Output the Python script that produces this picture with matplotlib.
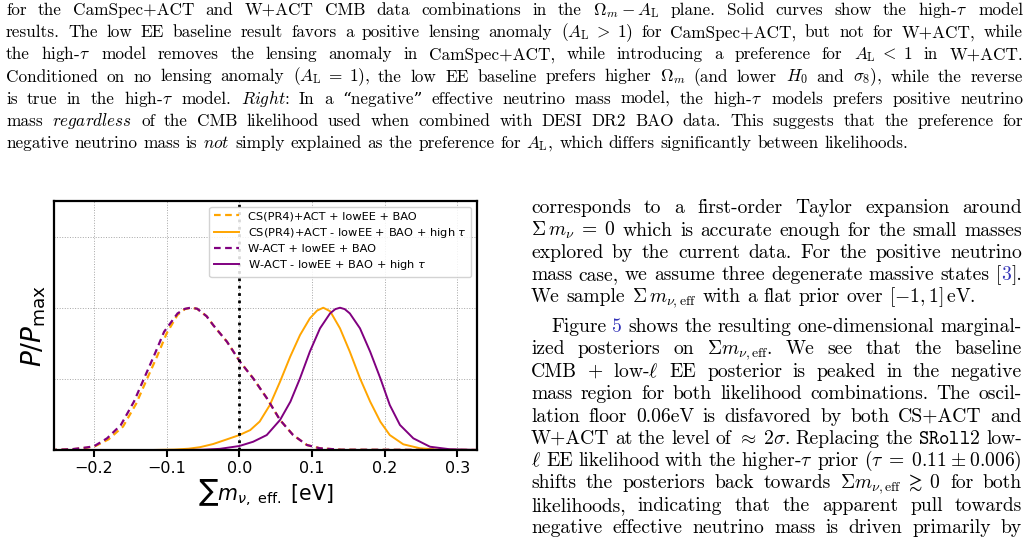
import matplotlib
matplotlib.use("Agg")
from matplotlib import pyplot as plt

W, H = 1028, 546

# curves: x = sum m_nu,eff [eV], y = P/Pmax
cs_low_x = [-0.26, -0.23, -0.21, -0.198, -0.18, -0.16, -0.142, -0.127, -0.113, -0.1, -0.085, -0.075, -0.066,
            -0.058, -0.045, -0.036, -0.017, 0.001, 0.019, 0.038, 0.056, 0.074, 0.093, 0.111, 0.14, 0.33]
cs_low_y = [0.0, 0.005, 0.016, 0.028, 0.075, 0.165, 0.325, 0.5, 0.66, 0.82, 0.95, 0.99, 1.0,
            0.992, 0.94, 0.878, 0.761, 0.62, 0.504, 0.363, 0.211, 0.105, 0.035, 0.012, 0.002, 0.0]

cs_high_x = [-0.26, -0.12, -0.09, -0.07, -0.054, -0.036, -0.017, 0.0, 0.015, 0.028, 0.042, 0.056, 0.07, 0.0835,
             0.097, 0.107, 0.1155, 0.125, 0.1385, 0.152, 0.166, 0.18, 0.194, 0.207, 0.2256, 0.2486, 0.276, 0.33]
cs_high_y = [0.0, 0.0, 0.003, 0.009, 0.02, 0.042, 0.075, 0.105, 0.14, 0.2, 0.316, 0.48, 0.656, 0.808,
             0.925, 0.98, 1.0, 0.975, 0.855, 0.691, 0.504, 0.34, 0.199, 0.105, 0.04, 0.012, 0.002, 0.0]

w_low_x = [-0.26, -0.23, -0.21, -0.2, -0.182, -0.163, -0.145, -0.131, -0.117, -0.1035, -0.085, -0.075, -0.067,
           -0.058, -0.045, -0.036, -0.017, 0.001, 0.019, 0.038, 0.056, 0.074, 0.093, 0.111, 0.14, 0.33]
w_low_y = [0.0, 0.006, 0.018, 0.026, 0.082, 0.176, 0.34, 0.504, 0.667, 0.831, 0.96, 0.992, 1.0,
           0.993, 0.94, 0.878, 0.761, 0.62, 0.504, 0.363, 0.211, 0.105, 0.035, 0.012, 0.002, 0.0]

w_high_x = [-0.26, -0.08, -0.05, -0.027, 0.0, 0.019, 0.0377, 0.056, 0.0703, 0.0835, 0.097, 0.111, 0.1248,
            0.132, 0.1385, 0.145, 0.152, 0.166, 0.18, 0.194, 0.207, 0.221, 0.2394, 0.2623, 0.29, 0.33]
w_high_y = [0.0, 0.0, 0.002, 0.008, 0.028, 0.058, 0.105, 0.211, 0.34, 0.504, 0.691, 0.855, 0.96,
            0.99, 1.0, 0.99, 0.96, 0.855, 0.691, 0.504, 0.316, 0.176, 0.082, 0.023, 0.005, 0.0]

labels = ["CS(PR4)+ACT + lowEE + BAO",
          r"CS(PR4)+ACT - lowEE + BAO + high $\tau$",
          "W-ACT + lowEE + BAO",
          r"W-ACT - lowEE + BAO + high $\tau$"]
xticks = [-0.2, -0.1, 0.0, 0.1, 0.2, 0.3]

# caption lines (first one is cut off by the top of the page); "|" toggles blue link colour
caption = [
    r"Left: Marginalized $(\Omega_m, A_{\rm L})$ and $\Sigma\, m_{\nu,{\rm eff}}$ posteriors, comparing the baseline low EE likelihood (dashed) with the",
    r"for the CamSpec+ACT and W+ACT CMB data combinations in the $\Omega_m \:-\: A_{\rm L}$ plane. Solid curves show the high-$\tau$ model",
    r"results. The low EE baseline result favors a positive lensing anomaly ($A_{\rm L} \;>\; 1$) for CamSpec+ACT, but not for W+ACT, while",
    r"the high-$\tau$ model removes the lensing anomaly in CamSpec+ACT, while introducing a preference for $A_{\rm L} \;<\; 1$ in W+ACT.",
    r"Conditioned on no lensing anomaly ($A_{\rm L} \;=\; 1$), the low EE baseline prefers higher $\Omega_m$ (and lower $H_0$ and $\sigma_8$), while the reverse",
    r"is true in the high-$\tau$ model. $\mathit{Right}$: In a “negative” effective neutrino mass model, the high-$\tau$ models prefers positive neutrino",
    r"mass $\mathit{regardless}$ of the CMB likelihood used when combined with DESI DR2 BAO data. This suggests that the preference for",
    r"negative neutrino mass is $\mathit{not}$ simply explained as the preference for $A_{\rm L}$, which differs significantly between likelihoods.",
]
body = [
    r"corresponds to a first-order Taylor expansion around",
    r"$\Sigma\, m_\nu \;=\; 0$ which is accurate enough for the small masses",
    r"explored by the current data. For the positive neutrino",
    r"mass case, we assume three degenerate massive states [|3|].",
    r"We sample $\Sigma\, m_{\nu,{\rm eff}}$ with a flat prior over $[-1, 1]\,$eV.",
    r"Figure |5| shows the resulting one-dimensional marginal-",
    r"ized posteriors on $\Sigma m_{\nu,{\rm eff}}$.  We see that the baseline",
    r"CMB + low-$\ell$ EE posterior is peaked in the negative",
    r"mass region for both likelihood combinations. The oscil-",
    r"lation floor 0.06eV is disfavored by both CS+ACT and",
    r"W+ACT at the level of $\approx\; 2\sigma$. Replacing the $\mathtt{SRoll2}$ low-",
    r"$\ell$ EE likelihood with the higher-$\tau$ prior ($\tau \;=\; 0.11 \:\pm\: 0.006$)",
    r"shifts the posteriors back towards $\Sigma m_{\nu,{\rm eff}} \;\gtrsim\; 0$ for both",
    r"likelihoods, indicating that the apparent pull towards",
    r"negative effective neutrino mass is driven primarily by",
]

fig = plt.figure(figsize=(W / 100, H / 100), dpi=100)

#================================================================
# the embedded plot
ax = fig.add_axes([54 / W, 1 - 450 / H, 423 / W, 249 / H])

ax.plot(cs_low_x, cs_low_y, color="orange", ls="--", dashes=(3, 2), lw=1.6, label=labels[0])
ax.plot(cs_high_x, cs_high_y, color="orange", lw=1.4, label=labels[1])
ax.plot(w_low_x, w_low_y, color="purple", ls="--", dashes=(3, 2), lw=1.6, label=labels[2])
ax.plot(w_high_x, w_high_y, color="purple", lw=1.4, label=labels[3])
ax.axvline(0, color="black", ls=":", lw=2, zorder=3)

ax.set_xlim(-0.255, 0.327)
ax.set_ylim(0, 1.75)
ax.set_xticks(xticks)
ax.set_yticks([0, 0.5, 1.0, 1.5])
ax.grid(True, ls=":", color="gray", lw=0.7, alpha=0.7)
ax.tick_params(axis="x", direction="out", length=5, width=1.5, labelsize=11.5, pad=3)
ax.tick_params(axis="y", length=0, labelleft=False)
for sp in ax.spines.values():
    sp.set_linewidth(1.6)

ax.set_xlabel(r"$\sum m_{\nu,\ \mathrm{eff.}}$ [eV]", fontsize=14.8, labelpad=1)
ax.set_ylabel(r"$P/P_{\rm max}$", fontsize=19, labelpad=4)
ax.legend(loc="upper right", fontsize=8.2, handlelength=2.2, labelspacing=0.38,
          borderaxespad=0.5, framealpha=0.85)

#================================================================
# the page text around the plot
renderer = fig.canvas.get_renderer()
serif = ["cmr10", "DejaVu Serif"]
link = "#3535b8"


def split_words(s):
    words, cur, inmath = [], "", False
    for ch in s:
        if ch == "$":
            inmath = not inmath
        if ch == " " and not inmath:
            if cur:
                words.append(cur)
            cur = ""
        else:
            cur += ch
    if cur:
        words.append(cur)
    return words


def put_line(s, x0, x1, y, size, justify=True):
    words = []
    for w in split_words(s):
        parts = []
        for k, p in enumerate(w.split("|")):
            if p:
                t = fig.text(0, 1 - y / H, p, fontsize=size, family=serif, math_fontfamily="cm",
                             color=link if k % 2 else "black", ha="left", va="baseline")
                parts.append((t, t.get_window_extent(renderer).width))
        words.append(parts)
    total = sum(wd for parts in words for _, wd in parts)
    if justify and len(words) > 1:
        gap = (x1 - x0 - total) / (len(words) - 1)
    else:
        gap = size * 100 / 72 * 0.333
    x = x0
    for parts in words:
        for t, wd in parts:
            t.set_x(x / W)
            x += wd
        x += gap


cap_y = [-7, 15, 37.2, 59.3, 81.5, 103.7, 125.8, 148]
for i, s in enumerate(caption):
    put_line(s, 6, 1023, cap_y[i], 12.4, justify=(i < len(caption) - 1))

body_y = [213, 235.5, 258, 280, 302.5, 332, 354.5, 377, 399, 421.5, 444, 466, 488.5, 511, 533]
for i, s in enumerate(body):
    x0 = 551 if i == 5 else 531
    put_line(s, x0, 1022, body_y[i], 14.1, justify=(i != 4))

plt.savefig("out.png", dpi=100)
plt.close()
